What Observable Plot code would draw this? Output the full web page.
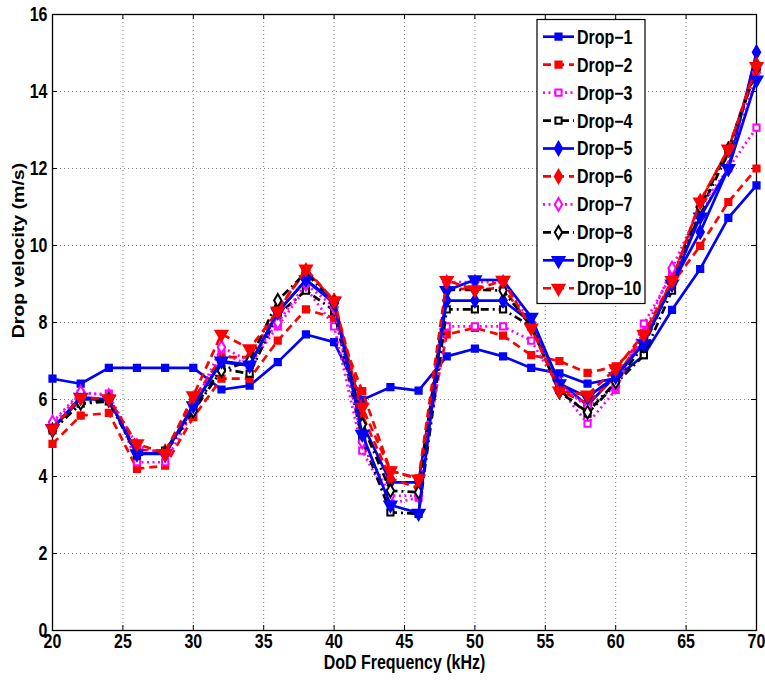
<!DOCTYPE html>
<html>
<head>
<meta charset="utf-8">
<script src="https://cdn.jsdelivr.net/npm/d3@7"></script>
<script src="https://cdn.jsdelivr.net/npm/@observablehq/plot@0.6"></script>
<style>
  html, body { margin: 0; padding: 0; background: #fff; }
</style>
</head>
<body>
<div id="chart"></div>
<script>
const freq = [20,22,24,26,28,30,32,34,36,38,40,42,44,46,48,50,52,54,56,58,60,62,64,66,68,70];

const drop1  = [6.54,6.41,6.82,6.82,6.82,6.82,6.26,6.36,6.97,7.69,7.49,5.99,6.32,6.23,7.12,7.32,7.12,6.82,6.68,6.41,6.55,7.15,8.33,9.39,10.72,11.56];
const drop2  = [4.85,5.58,5.65,4.20,4.28,5.54,6.54,6.54,7.53,8.34,8.12,6.22,4.15,3.95,7.69,7.86,7.66,7.15,7.00,6.69,6.86,7.55,9.00,9.99,11.13,12.00];
const drop3  = [5.35,6.15,6.15,4.37,4.37,5.70,7.20,6.90,7.90,8.90,7.90,4.67,3.30,3.45,7.90,7.90,7.90,7.53,6.30,5.37,6.25,7.97,9.25,10.80,12.00,13.06];
const drop4  = [5.20,5.89,5.95,4.55,4.67,5.76,6.80,6.67,8.20,8.83,8.31,4.96,3.07,3.03,8.34,8.34,8.34,7.90,6.25,5.63,6.41,7.15,8.83,10.90,12.40,14.60];
const drop5  = [5.25,6.00,6.00,4.60,4.60,5.84,6.97,6.88,8.27,9.10,8.50,5.38,3.85,3.85,8.57,8.57,8.57,8.00,6.45,5.85,6.62,7.50,9.00,10.35,12.00,15.02];
const drop6  = [5.25,6.05,6.00,4.70,4.65,6.00,7.10,7.10,8.35,9.35,8.57,5.60,3.95,3.70,8.90,8.85,8.90,7.90,6.23,5.90,6.60,7.60,9.10,11.15,12.50,14.70];
const drop7  = [5.41,6.19,6.10,4.80,4.55,5.80,7.36,7.00,8.00,9.00,8.40,4.90,3.50,3.50,9.05,9.05,9.05,8.00,6.40,5.80,6.35,7.70,9.41,11.00,12.00,14.50];
const drop8  = [5.20,5.90,6.00,4.60,4.60,5.70,6.75,7.00,8.57,9.30,8.50,5.35,3.63,3.59,8.85,8.85,8.83,7.90,6.20,5.67,6.45,7.40,9.00,11.00,12.50,14.60];
const drop9  = [5.25,6.06,6.00,4.59,4.59,5.84,7.00,6.90,8.27,9.11,8.55,5.10,3.26,3.05,8.83,9.11,9.10,8.14,6.41,6.06,6.60,7.45,9.00,10.74,12.00,14.30];
const drop10 = [5.24,6.05,6.02,4.85,4.60,6.10,7.70,7.32,8.30,9.39,8.57,5.80,4.15,3.94,9.09,8.85,9.09,7.86,6.22,6.12,6.80,7.70,9.09,11.13,12.51,14.65];

const seriesNames = ["Drop\u22121","Drop\u22122","Drop\u22123","Drop\u22124","Drop\u22125","Drop\u22126","Drop\u22127","Drop\u22128","Drop\u22129","Drop\u221210"];
const seriesValues = [drop1,drop2,drop3,drop4,drop5,drop6,drop7,drop8,drop9,drop10];

const xTicks = [20,25,30,35,40,45,50,55,60,65,70];
const yTicks = [0,2,4,6,8,10,12,14,16];
const xLabel = "DoD Frequency (kHz)";
const yLabel = "Drop velocity (m/s)";

// styles
const BLUE = "#0000ff", RED = "#ff0000", MAG = "#ff00ff", BLK = "#000000";
const DASH = "8,5", DOT = "2,3.5", DASHDOT = "8,4,2,4";
const styles = [
  {color: BLUE, dash: null,    symbol: "square",   fill: true,  r: 3.5, rotate: 0},
  {color: RED,  dash: DASH,    symbol: "square",   fill: true,  r: 3.5, rotate: 0},
  {color: MAG,  dash: DOT,     symbol: "square",   fill: false, r: 3.5, rotate: 0},
  {color: BLK,  dash: DASHDOT, symbol: "square",   fill: false, r: 3.5, rotate: 0},
  {color: BLUE, dash: null,    symbol: "diamond",  fill: true,  r: 3.9, rotate: 0},
  {color: RED,  dash: DASH,    symbol: "diamond",  fill: true,  r: 3.9, rotate: 0},
  {color: MAG,  dash: DOT,     symbol: "diamond",  fill: false, r: 3.9, rotate: 0},
  {color: BLK,  dash: DASHDOT, symbol: "diamond",  fill: false, r: 3.9, rotate: 0},
  {color: BLUE, dash: null,    symbol: "triangle", fill: true,  r: 4.4, rotate: 180},
  {color: RED,  dash: DASH,    symbol: "triangle", fill: true,  r: 4.4, rotate: 180}
];

const FONT = "'Liberation Sans', Arial, Helvetica, sans-serif";
const FS = 16;        // font size before vertical stretch
const STRETCH = 1.22; // reference text is tall / narrow

const rows = [];
seriesNames.forEach((name, i) => {
  seriesValues[i].forEach((v, j) => rows.push({series: name, idx: i, x: freq[j], y: v}));
});

const W = 765, H = 682, mL = 52, mR = 9, mT = 14, mB = 52;
const plotH = H - mT - mB, plotW = W - mL - mR;

const dataMarks = [];
seriesNames.forEach((name, i) => {
  const s = styles[i];
  const data = rows.filter(r => r.idx === i);
  dataMarks.push(Plot.line(data, {x: "x", y: "y", stroke: s.color, strokeWidth: 2.7,
    strokeDasharray: s.dash || undefined, strokeLinejoin: "round", strokeLinecap: "butt"}));
  dataMarks.push(Plot.dot(data, {x: "x", y: "y", symbol: s.symbol, r: s.r, rotate: s.rotate,
    stroke: s.color, strokeWidth: 2, fill: s.fill ? s.color : "white"}));
});

const chart = Plot.plot({
  width: W, height: H,
  marginLeft: mL, marginRight: mR, marginTop: mT, marginBottom: mB,
  x: {domain: [20, 70]},
  y: {domain: [0, 16]},
  style: {fontFamily: FONT, fontSize: FS + "px", fontWeight: "bold", color: "black", background: "white", overflow: "visible"},
  marks: [
    Plot.gridX(xTicks, {stroke: "#808080", strokeOpacity: 1, strokeWidth: 1, strokeDasharray: "1,3"}),
    Plot.gridY(yTicks, {stroke: "#808080", strokeOpacity: 1, strokeWidth: 1, strokeDasharray: "1,3"}),
    Plot.frame({stroke: "black", strokeWidth: 1.3}),
    Plot.ruleX(xTicks, {x: d => d, insetTop: plotH - 5, stroke: "black"}),
    Plot.ruleX(xTicks, {x: d => d, insetBottom: plotH - 5, stroke: "black"}),
    Plot.ruleY(yTicks, {y: d => d, insetRight: plotW - 5, stroke: "black"}),
    Plot.ruleY(yTicks, {y: d => d, insetLeft: plotW - 5, stroke: "black"}),
    Plot.axisX(xTicks, {tickSize: 0, tickPadding: 5, label: null, tickFormat: d => String(d)}),
    Plot.axisY(yTicks, {tickSize: 0, tickPadding: 5, label: null, tickFormat: d => String(d)}),
    Plot.text([xLabel], {text: d => d, frameAnchor: "bottom", dy: 32, lineAnchor: "middle", fontSize: FS, fontWeight: "bold"}),
    Plot.text([yLabel], {text: d => d, frameAnchor: "left", dx: -34, rotate: -90, lineAnchor: "middle", fontSize: FS, fontWeight: "bold"}),
    ...dataMarks
  ]
});

// Legend (MATLAB-style box inside the axes)
const svg = d3.select(chart);
const lg = svg.append("g").attr("class", "legend");
const boxX = 537, boxY = 19.5, boxW = 108, boxH = 284;
lg.append("rect").attr("x", boxX).attr("y", boxY).attr("width", boxW).attr("height", boxH)
  .attr("fill", "white").attr("stroke", "black").attr("stroke-width", 1.2);
const symMap = {square: d3.symbolSquare, diamond: d3.symbolDiamond, triangle: d3.symbolTriangle};
seriesNames.forEach((name, i) => {
  const s = styles[i];
  const cy = 36.7 + i * 27.95;
  lg.append("line").attr("x1", 543).attr("x2", 574).attr("y1", cy).attr("y2", cy)
    .attr("stroke", s.color).attr("stroke-width", 2.7)
    .attr("stroke-dasharray", s.dash || null);
  lg.append("path")
    .attr("d", d3.symbol(symMap[s.symbol], Math.PI * s.r * s.r)())
    .attr("transform", `translate(558.5,${cy}) rotate(${s.rotate})`)
    .attr("fill", s.fill ? s.color : "white").attr("stroke", s.color).attr("stroke-width", 2);
  lg.append("text")
    .attr("x", 577).attr("y", cy).attr("dy", "0.36em")
    .attr("text-anchor", "start")
    .attr("font-family", FONT).attr("font-size", FS).attr("font-weight", "bold")
    .attr("fill", "black").text(name);
});

document.getElementById("chart").appendChild(chart);

// Stretch every text (around its own centre) to match the reference's tall glyphs.
d3.select(chart).selectAll("text").each(function() {
  const el = this;
  const bb = el.getBBox();
  const cx = bb.x + bb.width / 2, cy = bb.y + bb.height / 2;
  const t = el.getAttribute("transform") || "";
  const rotated = /rotate\(\s*-?90/.test(t) || el.textContent === yLabel;
  const sc = rotated ? `scale(${STRETCH},1)` : `scale(1,${STRETCH})`;
  el.setAttribute("transform", `${t} translate(${cx},${cy}) ${sc} translate(${-cx},${-cy})`);
});
</script>
</body>
</html>
